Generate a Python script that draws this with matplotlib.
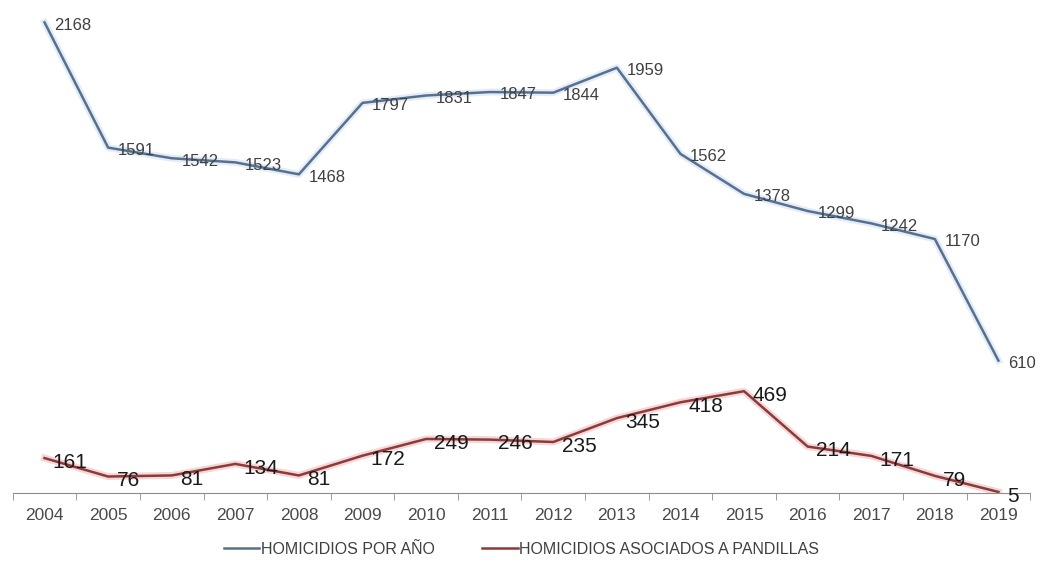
import numpy as np
import matplotlib.pyplot as plt
import matplotlib.patheffects as pe

# data
years = ['2004', '2005', '2006', '2007', '2008', '2009', '2010', '2011',
         '2012', '2013', '2014', '2015', '2016', '2017', '2018', '2019']
homicidios = [2168, 1591, 1542, 1523, 1468, 1797, 1831, 1847,
              1844, 1959, 1562, 1378, 1299, 1242, 1170, 610]
pandillas = [161, 76, 81, 134, 81, 172, 249, 246,
             235, 345, 418, 469, 214, 171, 79, 5]

plt.rcParams['font.family'] = ['Liberation Sans', 'DejaVu Sans']

fig = plt.figure(figsize=(10.61, 5.68), dpi=100)
ax = fig.add_axes([0.012, 0.132, 0.959, 0.86])

x = np.arange(len(years))

blue = '#56718f'
red = '#8a3b3b'

ax.plot(x, homicidios, color=blue, lw=1.8, label='HOMICIDIOS POR AÑO',
        path_effects=[pe.Stroke(linewidth=5, foreground='#e3ecf7'), pe.Normal()])
ax.plot(x, pandillas, color=red, lw=1.8, label='HOMICIDIOS ASOCIADOS A PANDILLAS',
        path_effects=[pe.Stroke(linewidth=5, foreground='#f7d6d6'), pe.Normal()])

# data labels
for xi, v in zip(x, homicidios):
    ax.annotate(str(v), (xi, v), xytext=(7, -2), textcoords='offset points',
                ha='left', va='center', fontsize=12, color='#404040')
for xi, v in zip(x, pandillas):
    ax.annotate(str(v), (xi, v), xytext=(6, -3), textcoords='offset points',
                ha='left', va='center', fontsize=15, color='#1a1a1a')

ax.set_xlim(-0.5, len(years) - 0.5)
ax.set_ylim(0, 2250)
ax.set_xticks(x)
ax.set_xticklabels(years, fontsize=12.5, color='#4a4a4a')
ax.set_xticks(np.arange(-0.5, len(years)), minor=True)
ax.tick_params(axis='x', which='major', length=0, pad=11)
ax.tick_params(axis='x', which='minor', length=5, color='#8c8c8c')
ax.set_yticks([])

for s in ['top', 'right', 'left']:
    ax.spines[s].set_visible(False)
ax.spines['bottom'].set_color('#8c8c8c')

leg = ax.legend(loc='upper center', bbox_to_anchor=(0.5, -0.07), ncol=2,
                frameon=False, fontsize=11.5, handlelength=2.2,
                handletextpad=0.1, columnspacing=3.0)
for t in leg.get_texts():
    t.set_color('#404040')
for h in leg.get_lines():
    h.set_path_effects([])
    h.set_linewidth(1.8)

fig.savefig('out.png', dpi=100)
